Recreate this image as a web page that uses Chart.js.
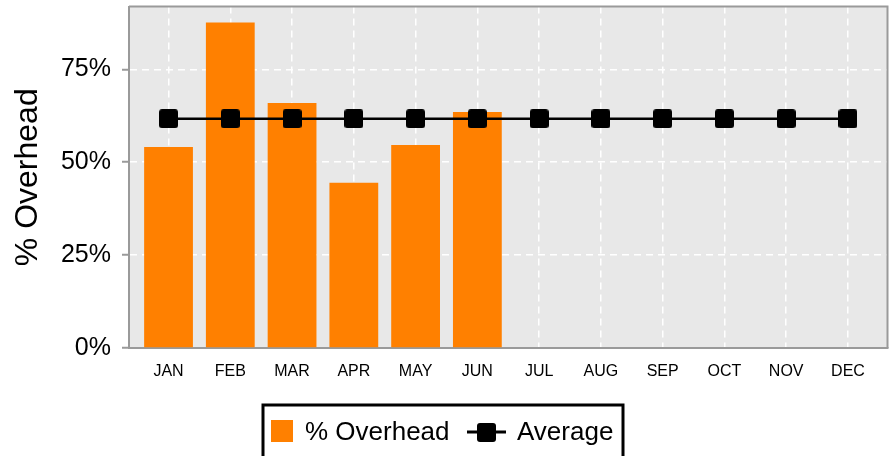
<!DOCTYPE html>
<html>
<head>
<meta charset="utf-8">
<script src="https://cdn.jsdelivr.net/npm/chart.js@4"></script>
<style>
    html, body { margin: 0; padding: 0; background: #ffffff; }
</style>
</head>
<body>
<canvas id="chart-area" width="894" height="456"></canvas>
<script>
var months = ['JAN', 'FEB', 'MAR', 'APR', 'MAY', 'JUN', 'JUL', 'AUG', 'SEP', 'OCT', 'NOV', 'DEC'];
var overhead = [54.1, 87.6, 65.9, 44.5, 54.6, 63.5, 0, 0, 0, 0, 0, 0];
var average = [61.7, 61.7, 61.7, 61.7, 61.7, 61.7, 61.7, 61.7, 61.7, 61.7, 61.7, 61.7];
var yTicks = [0, 25, 50, 75];

var ORANGE = '#FF8000';
var PANEL = '#E8E8E8';
var AXIS = '#9A9A9A';
var FONT = 'Arial, "Liberation Sans", sans-serif';

// black square marker with slightly rounded corners
function makeMarker(size) {
    var c = document.createElement('canvas');
    c.width = size;
    c.height = size;
    var g = c.getContext('2d');
    g.fillStyle = '#000000';
    g.beginPath();
    g.roundRect(0, 0, size, size, 3);
    g.fill();
    return c;
}
var marker = makeMarker(19);

function toPoints(values) {
    return values.map(function(v, i) { return {x: i, y: v}; });
}

var panelPlugin = {
    id: 'panel',
    beforeDraw: function(chart) {
        var a = chart.chartArea;
        var ctx = chart.ctx;
        ctx.save();
        ctx.fillStyle = PANEL;
        ctx.fillRect(a.left, a.top, a.right - a.left, a.bottom - a.top);
        ctx.restore();
    },
    afterDraw: function(chart) {
        var a = chart.chartArea;
        var ctx = chart.ctx;
        ctx.save();
        // top and right frame
        ctx.strokeStyle = AXIS;
        ctx.lineWidth = 2;
        ctx.beginPath();
        ctx.moveTo(a.left, a.top);
        ctx.lineTo(a.right, a.top);
        ctx.lineTo(a.right, a.bottom);
        ctx.stroke();

        // legend box
        ctx.strokeStyle = '#000000';
        ctx.lineWidth = 3;
        ctx.strokeRect(263, 405, 360, 70);
        ctx.fillStyle = ORANGE;
        ctx.fillRect(271, 420, 22, 22);
        ctx.font = '26px ' + FONT;
        ctx.fillStyle = '#000000';
        ctx.textBaseline = 'middle';
        ctx.fillText('% Overhead', 305, 433);
        ctx.lineWidth = 3;
        ctx.beginPath();
        ctx.moveTo(467, 432);
        ctx.lineTo(506, 432);
        ctx.stroke();
        ctx.drawImage(marker, 477, 423);
        ctx.fillText('Average', 517, 433);
        ctx.restore();
    }
};

var config = {
    type: 'bar',
    data: {
        datasets: [{
            type: 'line',
            label: 'Average',
            data: toPoints(average),
            borderColor: '#000000',
            borderWidth: 2.5,
            pointStyle: marker,
            backgroundColor: '#000000',
            order: 0
        }, {
            label: '% Overhead',
            data: toPoints(overhead),
            backgroundColor: ORANGE,
            borderWidth: 0,
            barPercentage: 0.79,
            categoryPercentage: 1,
            order: 1
        }]
    },
    options: {
        responsive: false,
        animation: false,
        layout: {
            padding: {top: 5, right: 5, left: 0, bottom: 0}
        },
        plugins: {
            legend: {display: false},
            tooltip: {enabled: false}
        },
        scales: {
            x: {
                type: 'linear',
                min: -0.64,
                max: 11.64,
                bounds: 'data',
                offset: false,
                afterBuildTicks: function(scale) {
                    scale.ticks = months.map(function(m, i) { return {value: i}; });
                },
                afterFit: function(scale) {
                    scale.height = 108;
                    scale.paddingLeft = 0;
                    scale.paddingRight = 0;
                },
                ticks: {
                    autoSkip: false,
                    maxRotation: 0,
                    padding: 14,
                    color: '#000000',
                    font: {size: 16, family: FONT},
                    callback: function(v) { return months[v]; }
                },
                grid: {
                    color: '#FFFFFF',
                    lineWidth: 1.5,
                    offset: false,
                    drawTicks: false
                },
                border: {
                    color: AXIS,
                    width: 2,
                    dash: [7, 5]
                }
            },
            y: {
                min: 0,
                max: 91.9,
                bounds: 'data',
                afterBuildTicks: function(scale) {
                    scale.ticks = yTicks.map(function(v) { return {value: v}; });
                },
                afterFit: function(scale) {
                    scale.width = 129;
                    scale.paddingTop = 0;
                    scale.paddingBottom = 0;
                },
                title: {
                    display: true,
                    text: '% Overhead',
                    color: '#000000',
                    font: {size: 32, family: FONT},
                    padding: {top: 9, bottom: 0}
                },
                ticks: {
                    padding: 11,
                    color: '#000000',
                    font: {size: 25, family: FONT},
                    callback: function(v) { return v + '%'; }
                },
                grid: {
                    color: '#FFFFFF',
                    lineWidth: 1.5,
                    tickLength: 7,
                    tickColor: AXIS,
                    tickWidth: 2,
                    tickBorderDash: []
                },
                border: {
                    color: AXIS,
                    width: 2,
                    dash: [7, 5]
                }
            }
        }
    },
    plugins: [panelPlugin]
};

window.onload = function() {
    var ctx = document.getElementById('chart-area').getContext('2d');
    window.overheadChart = new Chart(ctx, config);
};
</script>
</body>
</html>
